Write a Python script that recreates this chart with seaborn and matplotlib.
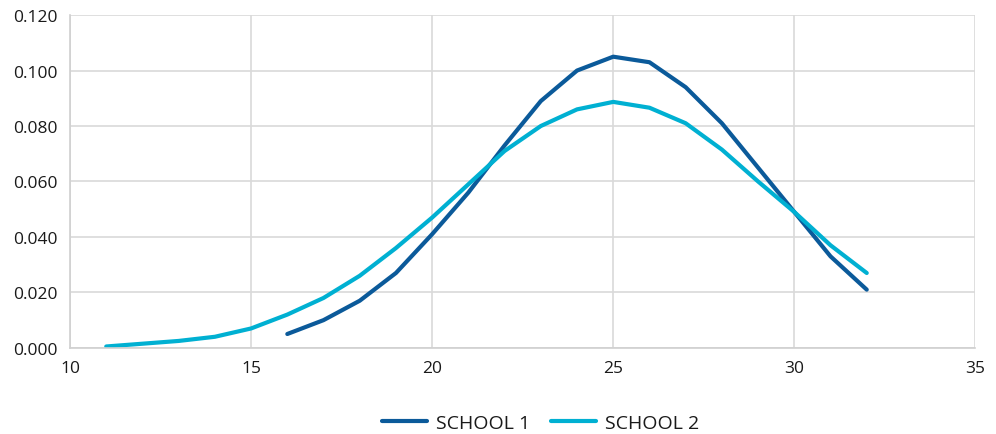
import matplotlib
matplotlib.use("Agg")
import matplotlib.pyplot as plt
import seaborn as sns
import pandas as pd

school1_x = list(range(16, 33))
school1_y = [0.005, 0.010, 0.017, 0.027, 0.041, 0.056, 0.073, 0.089, 0.100, 0.105,
             0.103, 0.094, 0.081, 0.065, 0.049, 0.033, 0.021]
school2_x = list(range(11, 33))
school2_y = [0.0005, 0.0015, 0.0025, 0.004, 0.007, 0.012, 0.018, 0.026, 0.036, 0.047,
             0.059, 0.071, 0.080, 0.086, 0.0887, 0.0866, 0.081, 0.0715, 0.060, 0.049,
             0.037, 0.027]
series_names = ["SCHOOL 1", "SCHOOL 2"]
colors = ["#0b5a9a", "#00b0d2"]

df = pd.concat([
    pd.DataFrame({"x": school1_x, "y": school1_y, "series": series_names[0]}),
    pd.DataFrame({"x": school2_x, "y": school2_y, "series": series_names[1]}),
])

sns.set_style("white")
plt.rcParams["font.family"] = ["Open Sans", "DejaVu Sans"]

fig = plt.figure(figsize=(9.96, 4.35), dpi=100)
ax = fig.add_axes([0.0703, 0.198, 0.909, 0.765])
sns.lineplot(data=df, x="x", y="y", hue="series", palette=colors, linewidth=3,
             ax=ax, legend=True)

ax.set_xlim(10, 35)
ax.set_ylim(0, 0.12)
ax.set_xticks([10, 15, 20, 25, 30, 35])
ax.set_yticks([0, 0.02, 0.04, 0.06, 0.08, 0.10, 0.12])
ax.set_yticklabels([f"{v:.3f}" for v in ax.get_yticks()])
ax.grid(True, color="#d9d9d9", linewidth=1.2)
ax.set_axisbelow(True)
for s in ["top", "right"]:
    ax.spines[s].set_visible(False)
for s in ["left", "bottom"]:
    ax.spines[s].set_color("#d0d0d0")
    ax.spines[s].set_linewidth(1.2)
ax.tick_params(axis="both", length=5, color="#d0d0d0", labelsize=12.5,
               labelcolor="#1a1a1a", pad=4)
ax.set_xlabel("")
ax.set_ylabel("")

leg = ax.legend(loc="center", bbox_to_anchor=(0.52, -0.225), ncol=2,
                frameon=False, fontsize=14, handlelength=2.3, columnspacing=1.1,
                handletextpad=0.45)
for t in leg.get_texts():
    t.set_color("#1a1a1a")

fig.savefig("out.png", dpi=100)
